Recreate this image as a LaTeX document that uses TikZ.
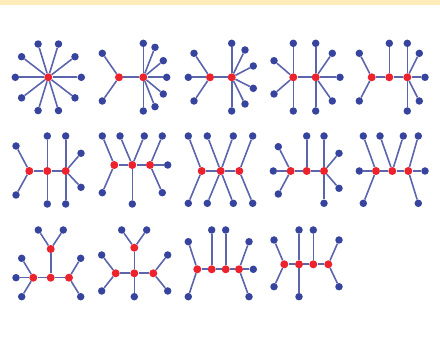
\documentclass[tikz,border=0pt]{standalone}
\usepackage{tikz}

\definecolor{leafblue}{RGB}{55,68,158}
\definecolor{edgeblue}{RGB}{92,100,172}
\definecolor{hubred}{RGB}{236,34,44}
\definecolor{bandyellow}{RGB}{255,236,186}

\tikzset{
  leaf/.style={circle, fill=leafblue, inner sep=0pt, minimum size=7.5pt},
  hub/.style={circle, fill=hubred, inner sep=0pt, minimum size=8pt},
  link/.style={draw=edgeblue, line width=1.6pt}
}

\begin{document}
\begin{tikzpicture}[x=1pt, y=-1pt]
    \useasboundingbox (0,0) rectangle (440,339);
    % top band
    \fill[bandyellow] (0,0) rectangle (440,5);

    % row 1 -----------------------------------------------------------
    % star
    \node[hub] (s1) at (48.3,77.3) {};
    \foreach \a [count=\i] in {0,36,...,324} {
        \node[leaf] (s1l\i) at ([shift={(\a:33 and 35)}]s1) {};
        \draw[link] (s1) -- (s1l\i);
    }

    % two hubs, 2 + 7
    \node[hub] (s2a) at (119,77.3) {};
    \node[hub] (s2b) at (143.3,77.3) {};
    \draw[link] (s2a) -- (s2b);
    \foreach \p [count=\i] in {{102.3,53.3},{102.3,101}} {
        \node[leaf] (s2a\i) at (\p) {};
        \draw[link] (s2a) -- (s2a\i);
    }
    \foreach \p [count=\i] in {{143.3,43.3},{155,47.3},{163.3,60.7},{166.7,77.3},{163.3,94},{155,106.7},{143.3,111}} {
        \node[leaf] (s2b\i) at (\p) {};
        \draw[link] (s2b) -- (s2b\i);
    }

    % two hubs, 3 + 6
    \node[hub] (s3a) at (210,77.3) {};
    \node[hub] (s3b) at (231.7,77.3) {};
    \draw[link] (s3a) -- (s3b);
    \foreach \p [count=\i] in {{188.3,77.3},{194,53.3},{194,101}} {
        \node[leaf] (s3a\i) at (\p) {};
        \draw[link] (s3a) -- (s3a\i);
    }
    \foreach \p [count=\i] in {{231.7,43.3},{245,50},{253.3,66},{253.3,88.3},{245,104},{231.7,111}} {
        \node[leaf] (s3b\i) at (\p) {};
        \draw[link] (s3b) -- (s3b\i);
    }

    % two hubs, 4 + 5
    \node[hub] (s4a) at (293.3,77.3) {};
    \node[hub] (s4b) at (315.7,77.3) {};
    \draw[link] (s4a) -- (s4b);
    \foreach \p [count=\i] in {{274,60.7},{274,94},{293.3,43.3},{293.3,111}} {
        \node[leaf] (s4a\i) at (\p) {};
        \draw[link] (s4a) -- (s4a\i);
    }
    \foreach \p [count=\i] in {{315.7,43.3},{332.3,53.3},{340,77.3},{332.3,101},{315.7,111}} {
        \node[leaf] (s4b\i) at (\p) {};
        \draw[link] (s4b) -- (s4b\i);
    }

    % three hubs, 2 + 1 + 5
    \node[hub] (s5a) at (371.7,77.3) {};
    \node[hub] (s5b) at (389.3,77.3) {};
    \node[hub] (s5c) at (407.3,77.3) {};
    \draw[link] (s5a) -- (s5b);
    \draw[link] (s5b) -- (s5c);
    \foreach \p [count=\i] in {{359.3,53.3},{359.3,101}} {
        \node[leaf] (s5a\i) at (\p) {};
        \draw[link] (s5a) -- (s5a\i);
    }
    \node[leaf] (s5b1) at (389.3,43.3) {};
    \draw[link] (s5b) -- (s5b1);
    \foreach \p [count=\i] in {{407.3,43.3},{419.3,53.3},{425,77.3},{419.3,101},{407.3,111}} {
        \node[leaf] (s5c\i) at (\p) {};
        \draw[link] (s5c) -- (s5c\i);
    }

    % row 2 -----------------------------------------------------------
    % three hubs, 2 + 2 + 4
    \node[hub] (s6a) at (29.3,171) {};
    \node[hub] (s6b) at (47.3,171) {};
    \node[hub] (s6c) at (65.7,171) {};
    \draw[link] (s6a) -- (s6b);
    \draw[link] (s6b) -- (s6c);
    \foreach \p [count=\i] in {{16,146},{16,195}} {
        \node[leaf] (s6a\i) at (\p) {};
        \draw[link] (s6a) -- (s6a\i);
    }
    \foreach \p [count=\i] in {{47.3,136},{47.3,204}} {
        \node[leaf] (s6b\i) at (\p) {};
        \draw[link] (s6b) -- (s6b\i);
    }
    \foreach \p [count=\i] in {{65.7,136},{81,153.3},{81,187.3},{65.7,204}} {
        \node[leaf] (s6c\i) at (\p) {};
        \draw[link] (s6c) -- (s6c\i);
    }

    % three hubs, 2 + 3 + 3
    \node[hub] (s7a) at (114.3,165) {};
    \node[hub] (s7b) at (132.3,165) {};
    \node[hub] (s7c) at (150,165) {};
    \draw[link] (s7a) -- (s7b);
    \draw[link] (s7b) -- (s7c);
    \foreach \p [count=\i] in {{102.3,136},{102.3,192.7}} {
        \node[leaf] (s7a\i) at (\p) {};
        \draw[link] (s7a) -- (s7a\i);
    }
    \foreach \p [count=\i] in {{120,136},{144.3,136},{132.3,204}} {
        \node[leaf] (s7b\i) at (\p) {};
        \draw[link] (s7b) -- (s7b\i);
    }
    \foreach \p [count=\i] in {{162.3,136},{167.7,165},{162.3,192.7}} {
        \node[leaf] (s7c\i) at (\p) {};
        \draw[link] (s7c) -- (s7c\i);
    }

    % three hubs, 2 + 4 + 2
    \node[hub] (s8a) at (201.7,171) {};
    \node[hub] (s8b) at (220.7,171) {};
    \node[hub] (s8c) at (239.3,171) {};
    \draw[link] (s8a) -- (s8b);
    \draw[link] (s8b) -- (s8c);
    \foreach \p [count=\i] in {{188.3,136},{188.3,203.3}} {
        \node[leaf] (s8a\i) at (\p) {};
        \draw[link] (s8a) -- (s8a\i);
    }
    \foreach \p [count=\i] in {{207.3,136},{233.3,136},{207.3,203.3},{233.3,203.3}} {
        \node[leaf] (s8b\i) at (\p) {};
        \draw[link] (s8b) -- (s8b\i);
    }
    \foreach \p [count=\i] in {{252.7,136},{252.7,203.3}} {
        \node[leaf] (s8c\i) at (\p) {};
        \draw[link] (s8c) -- (s8c\i);
    }

    % three hubs, 3 + 1 + 4
    \node[hub] (s9a) at (290.7,171) {};
    \node[hub] (s9b) at (306.7,171) {};
    \node[hub] (s9c) at (324,171) {};
    \draw[link] (s9a) -- (s9b);
    \draw[link] (s9b) -- (s9c);
    \foreach \p [count=\i] in {{278.3,146.7},{273.3,171},{278.3,194}} {
        \node[leaf] (s9a\i) at (\p) {};
        \draw[link] (s9a) -- (s9a\i);
    }
    \node[leaf] (s9b1) at (306.7,136) {};
    \draw[link] (s9b) -- (s9b1);
    \foreach \p [count=\i] in {{324,136},{339,153.3},{339,188.3},{324,203.3}} {
        \node[leaf] (s9c\i) at (\p) {};
        \draw[link] (s9c) -- (s9c\i);
    }

    % three hubs, 3 + 2 + 3
    \node[hub] (s10a) at (376,171) {};
    \node[hub] (s10b) at (392.3,171) {};
    \node[hub] (s10c) at (408.3,171) {};
    \draw[link] (s10a) -- (s10b);
    \draw[link] (s10b) -- (s10c);
    \foreach \p [count=\i] in {{359.3,171},{363.3,136},{363.3,203.3}} {
        \node[leaf] (s10a\i) at (\p) {};
        \draw[link] (s10a) -- (s10a\i);
    }
    \foreach \p [count=\i] in {{380,136},{403.3,136}} {
        \node[leaf] (s10b\i) at (\p) {};
        \draw[link] (s10b) -- (s10b\i);
    }
    \foreach \p [count=\i] in {{418.3,136},{425,171},{418.3,203.3}} {
        \node[leaf] (s10c\i) at (\p) {};
        \draw[link] (s10c) -- (s10c\i);
    }

    % row 3 -----------------------------------------------------------
    % four hubs, one on top
    \node[hub] (s11t) at (50.7,249) {};
    \node[hub] (s11a) at (33.3,277.7) {};
    \node[hub] (s11b) at (50.7,277.7) {};
    \node[hub] (s11c) at (69,277.7) {};
    \draw[link] (s11t) -- (s11b);
    \draw[link] (s11a) -- (s11b);
    \draw[link] (s11b) -- (s11c);
    \foreach \p [count=\i] in {{38.3,230},{63.3,230}} {
        \node[leaf] (s11t\i) at (\p) {};
        \draw[link] (s11t) -- (s11t\i);
    }
    \foreach \p [count=\i] in {{21.7,258.3},{16,277.7},{21.7,296.7}} {
        \node[leaf] (s11a\i) at (\p) {};
        \draw[link] (s11a) -- (s11a\i);
    }
    \foreach \p [count=\i] in {{80.7,258.3},{80.7,296.7}} {
        \node[leaf] (s11c\i) at (\p) {};
        \draw[link] (s11c) -- (s11c\i);
    }

    % four hubs, one on top, leaf below
    \node[hub] (s12t) at (134.3,247.7) {};
    \node[hub] (s12a) at (115.7,273.3) {};
    \node[hub] (s12b) at (134.3,273.3) {};
    \node[hub] (s12c) at (153.3,273.3) {};
    \draw[link] (s12t) -- (s12b);
    \draw[link] (s12a) -- (s12b);
    \draw[link] (s12b) -- (s12c);
    \foreach \p [count=\i] in {{121.7,230},{146.7,230}} {
        \node[leaf] (s12t\i) at (\p) {};
        \draw[link] (s12t) -- (s12t\i);
    }
    \foreach \p [count=\i] in {{101.7,255},{101.7,291}} {
        \node[leaf] (s12a\i) at (\p) {};
        \draw[link] (s12a) -- (s12a\i);
    }
    \node[leaf] (s12b1) at (134.3,296.7) {};
    \draw[link] (s12b) -- (s12b1);
    \foreach \p [count=\i] in {{167.7,255},{167.7,291}} {
        \node[leaf] (s12c\i) at (\p) {};
        \draw[link] (s12c) -- (s12c\i);
    }

    % four hubs in a row, 2 + 1 + 1 + 3
    \node[hub] (s13a) at (197.3,269.3) {};
    \node[hub] (s13b) at (211.7,269.3) {};
    \node[hub] (s13c) at (225.7,269.3) {};
    \node[hub] (s13d) at (239,269.3) {};
    \draw[link] (s13a) -- (s13b);
    \draw[link] (s13b) -- (s13c);
    \draw[link] (s13c) -- (s13d);
    \foreach \p [count=\i] in {{188.3,241.7},{188.3,296.7}} {
        \node[leaf] (s13a\i) at (\p) {};
        \draw[link] (s13a) -- (s13a\i);
    }
    \node[leaf] (s13b1) at (211.7,230) {};
    \draw[link] (s13b) -- (s13b1);
    \node[leaf] (s13c1) at (225.7,230) {};
    \draw[link] (s13c) -- (s13c1);
    \foreach \p [count=\i] in {{249,241.7},{253.3,269.3},{249,296.7}} {
        \node[leaf] (s13d\i) at (\p) {};
        \draw[link] (s13d) -- (s13d\i);
    }

    % four hubs in a row, 2 + 2 + 1 + 2
    \node[hub] (s14a) at (284.3,264.3) {};
    \node[hub] (s14b) at (299,264.3) {};
    \node[hub] (s14c) at (313.3,264.3) {};
    \node[hub] (s14d) at (328.3,264.3) {};
    \draw[link] (s14a) -- (s14b);
    \draw[link] (s14b) -- (s14c);
    \draw[link] (s14c) -- (s14d);
    \foreach \p [count=\i] in {{274,240},{274,286.7}} {
        \node[leaf] (s14a\i) at (\p) {};
        \draw[link] (s14a) -- (s14a\i);
    }
    \foreach \p [count=\i] in {{299,230},{299,296.7}} {
        \node[leaf] (s14b\i) at (\p) {};
        \draw[link] (s14b) -- (s14b\i);
    }
    \node[leaf] (s14c1) at (313.3,230) {};
    \draw[link] (s14c) -- (s14c1);
    \foreach \p [count=\i] in {{339,240},{339,286.7}} {
        \node[leaf] (s14d\i) at (\p) {};
        \draw[link] (s14d) -- (s14d\i);
    }
\end{tikzpicture}
\end{document}
